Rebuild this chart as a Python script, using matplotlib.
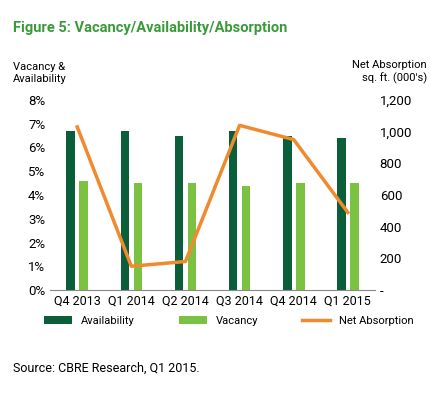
import matplotlib
matplotlib.use('Agg')
import matplotlib.pyplot as plt
import numpy as np
from matplotlib.ticker import FuncFormatter

plt.rcParams['font.family'] = ['Roboto', 'DejaVu Sans']

quarters = ['Q4 2013', 'Q1 2014', 'Q2 2014', 'Q3 2014', 'Q4 2014', 'Q1 2015']
availability = [6.7, 6.7, 6.5, 6.7, 6.5, 6.4]
vacancy = [4.6, 4.5, 4.5, 4.4, 4.5, 4.5]
net_absorption = [1030, 150, 180, 1040, 950, 490]

dark = '#0b5e3a'
light = '#7cc242'
orange = '#f08a2e'

fig = plt.figure(figsize=(4.4, 4.0), dpi=100)
ax = fig.add_axes([0.114, 0.275, 0.738, 0.475])
x = np.arange(len(quarters))
w = 0.16
ax.bar(x - 0.12, availability, w, color=dark, label='Availability')
ax.bar(x + 0.12, vacancy, w, color=light, label='Vacancy')
ax.set_ylim(0, 8)
ax.set_yticks(range(0, 9))
ax.yaxis.set_major_formatter(FuncFormatter(lambda v, p: f'{int(v)}%'))
ax.set_xlim(-0.5, len(quarters) - 0.5)
ax.set_xticks(x)
ax.set_xticklabels(quarters, fontsize=9)
ax.tick_params(length=0, labelsize=9.5)
ax.tick_params(axis='x', labelsize=9)
for s in ['top', 'right', 'left']:
    ax.spines[s].set_visible(False)
ax.spines['bottom'].set_color('#888888')

ax2 = ax.twinx()
ax2.plot(x, net_absorption, color=orange, lw=2.5, label='Net Absorption')
ax2.set_ylim(0, 1200)
ax2.set_yticks(range(0, 1201, 200))
ax2.yaxis.set_major_formatter(FuncFormatter(lambda v, p: '-' if v == 0 else f'{int(v):,}'))
ax2.tick_params(length=0, labelsize=9.5)
for s in ['top', 'right', 'left', 'bottom']:
    ax2.spines[s].set_visible(False)

fig.text(0.03, 0.92, 'Figure 5: Vacancy/Availability/Absorption', color='#3a9a3a',
         fontsize=10.5, fontweight='bold')
fig.text(0.03, 0.79, 'Vacancy &\nAvailability', fontsize=8, va='bottom', linespacing=1.3)
fig.text(0.97, 0.79, 'Net Absorption\nsq. ft. (000\'s)', fontsize=8, va='bottom', ha='right',
         linespacing=1.3)

h1, l1 = ax.get_legend_handles_labels()
h2, l2 = ax2.get_legend_handles_labels()
fig.legend(h1 + h2, l1 + l2, loc='upper center', bbox_to_anchor=(0.52, 0.235), ncol=3,
           frameon=False, fontsize=8, handlelength=2.5, columnspacing=4)
fig.text(0.03, 0.07, 'Source: CBRE Research, Q1 2015.', fontsize=9)

fig.savefig('out.png', dpi=100)
